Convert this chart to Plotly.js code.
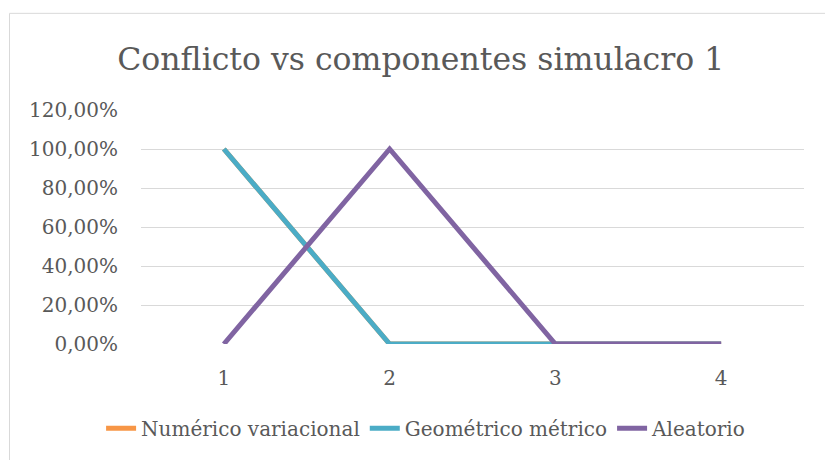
<!DOCTYPE html>
<html>
<head>
<meta charset="utf-8">
<script src="https://cdn.plot.ly/plotly-3.0.1.min.js"></script>
<style>html,body{margin:0;padding:0;background:#fff;}#chart{width:825px;height:460px;}</style>
</head>
<body>
<div id="chart"></div>
<script>
const categories = ["1", "2", "3", "4"];
const numericoVariacional = [1, 0, 0, 0];
const geometricoMetrico = [1, 0, 0, 0];
const aleatorio = [0, 1, 0, 0];
const yTickValues = [0, 0.2, 0.4, 0.6, 0.8, 1.0, 1.2];
const yTickLabels = ["0,00%", "20,00%", "40,00%", "60,00%", "80,00%", "100,00%", "120,00%"];
const seriesNames = ["Numérico variacional", "Geométrico métrico", "Aleatorio"];

const FONT = "DejaVu Serif";
const TEXT = "#595959";
const mk = (y, name, color) => ({
  x: categories, y: y, name: name, type: "scatter", mode: "lines",
  line: {color: color, width: 5}, hoverinfo: "skip"
});
const data = [
  mk(numericoVariacional, seriesNames[0], "#F79646"),
  mk(geometricoMetrico, seriesNames[1], "#4BACC6"),
  mk(aleatorio, seriesNames[2], "#8064A2")
];
const layout = {
  width: 825, height: 460,
  margin: {l: 141, r: 21, t: 110, b: 114},
  paper_bgcolor: "#fff", plot_bgcolor: "#fff",
  font: {family: FONT, color: TEXT, size: 20},
  title: {text: "Conflicto vs componentes simulacro 1", font: {family: FONT, size: 31.5, color: TEXT},
          x: 0.51, xref: "container", xanchor: "center", y: 0.872, yref: "container", yanchor: "middle"},
  xaxis: {type: "category", range: [-0.5, 3.5], showgrid: false, zeroline: false, showline: false,
          ticks: "", ticklabelstandoff: 20, tickfont: {family: FONT, size: 20, color: TEXT}, fixedrange: true},
  yaxis: {range: [0, 1.2], tickvals: yTickValues, ticktext: yTickLabels, showgrid: true,
          gridcolor: "#d9d9d9", gridwidth: 1, zeroline: false, showline: false, ticks: "",
          ticklabelstandoff: 22, tickfont: {family: FONT, size: 20, color: TEXT}, fixedrange: true},
  showlegend: true,
  legend: {orientation: "h", x: 0.43, xanchor: "center", y: -0.36, yanchor: "middle",
           font: {family: FONT, size: 20, color: TEXT}, itemwidth: 30, tracegroupgap: 0},
  shapes: [{type: "rect", xref: "paper", yref: "paper", x0: -0.1983, x1: 1.05, y0: -0.55, y1: 1.4131,
            line: {color: "#d9d9d9", width: 1}, fillcolor: "rgba(0,0,0,0)", layer: "below"}]
};
Plotly.newPlot("chart", data, layout, {displayModeBar: false, staticPlot: true});
</script>
</body>
</html>
